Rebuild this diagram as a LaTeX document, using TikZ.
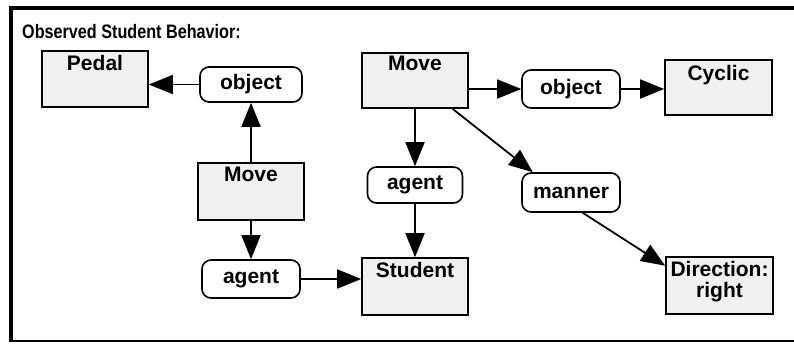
\documentclass[tikz,border=0pt]{standalone}
\usepackage{fontspec}
\setmainfont{Liberation Sans}
\usetikzlibrary{arrows.meta}
\begin{document}
\begin{tikzpicture}[x=1pt,y=-1pt,
  concept/.style={draw=black, line width=1.6pt, fill=gray!12, inner sep=0pt},
  conceptlabel/.style={anchor=north, inner sep=0pt, font=\fontsize{21}{22}\selectfont\bfseries, align=center},
  relation/.style={draw=black, line width=1.6pt, rounded corners=9pt, fill=white,
    inner sep=0pt, font=\fontsize{21}{22}\selectfont\bfseries},
  link/.style={line width=1.8pt, -{Triangle[length=24pt,width=19pt]}},
  frame/.style={line cap=rect}]
  \useasboundingbox (0,0) rectangle (794,343);

  % frame
  \draw[frame, line width=4pt] (11,7.5) coordinate (ftl) -- (794,7.5) coordinate (ftr);
  \draw[frame, line width=3.5pt] (ftl) -- (11,340.5) coordinate (fbl);
  \draw[line width=2pt] (fbl) -- (794,340.5) coordinate (fbr);

  \node[anchor=west, inner sep=0pt] (title) at (22,31.5)
    {\scalebox{0.83}[1]{\fontsize{19.5}{21}\selectfont\bfseries Observed Student Behavior:}};

  % concept boxes
  \node[concept, minimum width=106pt, minimum height=56pt] (pedal) at (95,79) {};
  \node[concept, minimum width=106pt, minimum height=57pt] (moveL) at (251,191.5) {};
  \node[concept, minimum width=106pt, minimum height=55pt] (moveT) at (415,80.5) {};
  \node[concept, minimum width=106pt, minimum height=57pt] (student) at (415,286.5) {};
  \node[concept, minimum width=107pt, minimum height=55pt] (cyclic) at (718.5,87.5) {};
  \node[concept, minimum width=107pt, minimum height=57pt] (direction) at (719.5,285.5) {};

  \node[conceptlabel, yshift=-5pt] (pedalT) at (pedal.north) {Pedal};
  \node[conceptlabel, yshift=-5pt] (moveLT) at (moveL.north) {Move};
  \node[conceptlabel, yshift=-4pt] (moveTT) at (moveT.north) {Move};
  \node[conceptlabel, yshift=-5pt] (studentT) at (student.north) {Student};
  \node[conceptlabel, yshift=-6pt] (cyclicT) at (cyclic.north) {Cyclic};
  \node[conceptlabel, yshift=-5pt] (directionT) at (direction.north) {Direction:\\[-1pt]right};

  % relation nodes
  \node[relation, minimum width=102pt, minimum height=35pt] (objL) at (251,84.5) {object};
  \node[relation, minimum width=98pt, minimum height=38pt] (agentL) at (251,279) {agent};
  \node[relation, minimum width=95pt, minimum height=36pt] (agentM) at (415,185) {agent};
  \node[relation, minimum width=98pt, minimum height=38pt] (objR) at (571,89) {object};
  \node[relation, minimum width=98pt, minimum height=39pt] (manner) at (571,192.5) {manner};

  % links
  \draw[link] (objL.west) -- (objL.west -| pedal.east);
  \draw[link] (moveL) -- (objL);
  \draw[link] (moveL) -- (agentL);
  \draw[link] (agentL.east) -- (agentL.east -| student.west);
  \draw[link] (moveT) -- (agentM);
  \draw[link] (agentM) -- (student);
  \draw[link] (objR.west -| moveT.east) -- (objR.west);
  \draw[link] (objR.east) -- (objR.east -| cyclic.west);
  \draw[link] (moveT.-37) -- (manner.152);
  \draw[link] (manner.-60) -- (direction.160);
\end{tikzpicture}
\end{document}
